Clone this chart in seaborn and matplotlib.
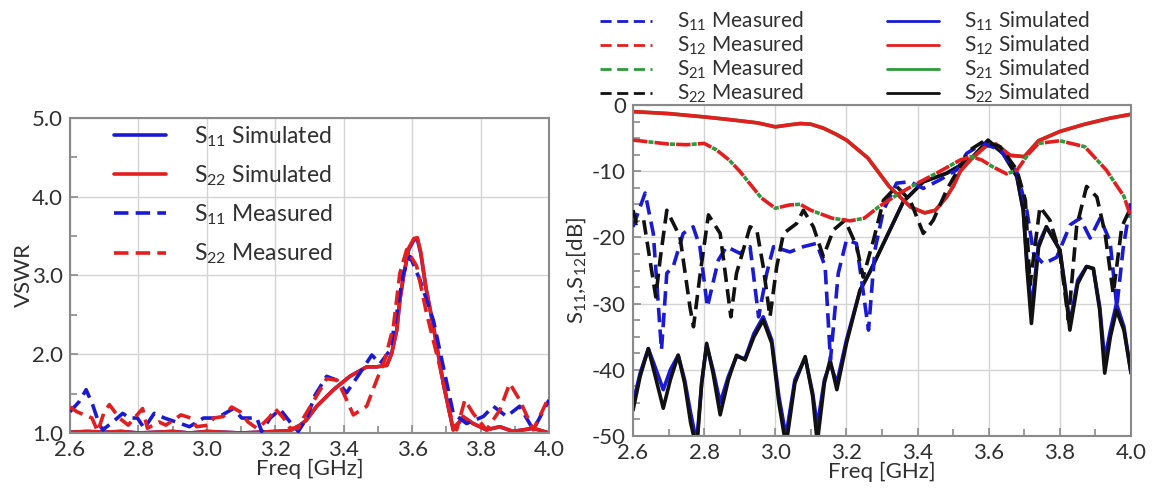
import numpy as np
import pandas as pd
import matplotlib
matplotlib.use("Agg")
import matplotlib.pyplot as plt
from matplotlib.lines import Line2D
from matplotlib.ticker import MultipleLocator, FormatStrFormatter
import seaborn as sns

sns.set_theme(style="whitegrid")
plt.rcParams["font.family"] = ["Lato", "DejaVu Sans"]
plt.rcParams["mathtext.fontset"] = "custom"
plt.rcParams["mathtext.rm"] = "Lato"
plt.rcParams["mathtext.it"] = "Lato:italic"
plt.rcParams["mathtext.default"] = "regular"
plt.rcParams["axes.unicode_minus"] = False

# ---------------- VSWR (left panel) ----------------
vswr_sim_f = [2.60, 2.65, 2.70, 2.75, 2.80, 2.85, 2.90, 2.95, 3.00, 3.05, 3.10, 3.15,
              3.20, 3.243, 3.272, 3.29, 3.321, 3.37, 3.418, 3.467, 3.496, 3.526, 3.540,
              3.555, 3.564, 3.575, 3.59, 3.605, 3.615, 3.625, 3.640, 3.662, 3.691,
              3.72, 3.749, 3.778, 3.817, 3.856, 3.895, 3.954, 4.0]
vswr_s22_sim = [1.01, 1.02, 1.01, 1.02, 1.00, 1.01, 1.02, 1.00, 1.02, 1.01, 1.00, 1.01,
                1.02, 1.03, 1.10, 1.16, 1.34, 1.55, 1.72, 1.84, 1.84, 1.86, 2.01,
                2.31, 2.69, 3.00, 3.35, 3.47, 3.48, 3.30, 2.85, 2.35, 1.63,
                1.04, 1.21, 1.12, 1.04, 1.08, 1.02, 1.06, 1.00]
vswr_s11_sim = [1.01, 1.02, 1.01, 1.02, 1.00, 1.01, 1.02, 1.00, 1.02, 1.01, 1.00, 1.01,
                1.02, 1.03, 1.10, 1.16, 1.34, 1.55, 1.72, 1.84, 1.84, 1.86, 2.01,
                2.31, 2.69, 3.00, 3.33, 3.45, 3.46, 3.28, 2.85, 2.35, 1.63,
                1.04, 1.20, 1.12, 1.04, 1.08, 1.02, 1.06, 1.00]

vswr_s22_meas_f = [2.600, 2.620, 2.664, 2.681, 2.700, 2.715, 2.744, 2.770, 2.790, 2.812,
                   2.826, 2.860, 2.880, 2.924, 2.953, 2.970, 3.004, 3.020, 3.048, 3.072,
                   3.097, 3.120, 3.146, 3.160, 3.185, 3.199, 3.224, 3.243, 3.267, 3.282,
                   3.311, 3.350, 3.380, 3.399, 3.428, 3.467, 3.496, 3.520, 3.545, 3.564,
                   3.584, 3.613, 3.642, 3.681, 3.710, 3.730, 3.754, 3.778, 3.817, 3.856,
                   3.885, 3.914, 3.954, 4.000]
vswr_s22_meas = [1.33, 1.27, 1.19, 1.02, 1.27, 1.36, 1.19, 1.10, 1.20, 1.31,
                 1.06, 1.14, 1.10, 1.23, 1.19, 1.08, 1.10, 1.19, 1.21, 1.33,
                 1.27, 1.14, 1.06, 1.10, 1.21, 1.31, 1.19, 1.06, 1.06, 1.19,
                 1.40, 1.69, 1.67, 1.51, 1.23, 1.34, 1.67, 1.93, 2.35, 3.03,
                 3.33, 3.12, 2.52, 1.84, 1.25, 1.04, 1.42, 1.25, 1.04, 1.29,
                 1.63, 1.42, 1.04, 1.46]

vswr_s11_meas_f = [2.600, 2.627, 2.647, 2.666, 2.686, 2.696, 2.725, 2.754, 2.773, 2.797,
                   2.817, 2.846, 2.876, 2.910, 2.949, 2.990, 3.029, 3.077, 3.102, 3.146,
                   3.160, 3.185, 3.214, 3.243, 3.267, 3.292, 3.316, 3.350, 3.380, 3.408,
                   3.447, 3.482, 3.506, 3.535, 3.555, 3.574, 3.594, 3.623, 3.662, 3.691,
                   3.720, 3.759, 3.808, 3.837, 3.876, 3.914, 3.954, 4.000]
vswr_s11_meas = [1.27, 1.40, 1.55, 1.36, 1.10, 1.04, 1.14, 1.25, 1.19, 1.19,
                 1.06, 1.25, 1.19, 1.14, 1.08, 1.19, 1.19, 1.31, 1.19, 1.19,
                 1.02, 1.19, 1.30, 1.14, 1.02, 1.19, 1.48, 1.72, 1.67, 1.51,
                 1.76, 1.99, 1.88, 2.05, 2.52, 3.03, 3.24, 2.94, 2.43, 1.84,
                 1.25, 1.12, 1.21, 1.34, 1.21, 1.34, 1.04, 1.42]

# ---------------- S-parameters (right panel) ----------------
s12_sim_f = [2.60, 2.70, 2.80, 2.87, 2.95, 3.00, 3.04, 3.07, 3.10, 3.135, 3.17, 3.20,
             3.26, 3.32, 3.38, 3.42, 3.45, 3.48, 3.50, 3.52, 3.55, 3.59, 3.62, 3.66,
             3.70, 3.74, 3.80, 3.87, 3.94, 4.00]
s12_sim = [-1.0, -1.3, -1.8, -2.2, -2.7, -3.3, -3.0, -2.8, -2.9, -3.5, -4.4, -5.3,
           -8.0, -12.3, -15.4, -16.3, -15.9, -14.0, -12.3, -10.0, -8.2, -6.3, -5.9, -7.6,
           -7.8, -5.4, -4.0, -2.9, -2.0, -1.4]
s21_sim = list(s12_sim)

s12_meas_f = [2.60, 2.65, 2.70, 2.75, 2.80, 2.835, 2.87, 2.90, 2.93, 2.96, 3.00, 3.04,
              3.07, 3.10, 3.16, 3.21, 3.25, 3.29, 3.35, 3.40, 3.46, 3.52, 3.55, 3.58,
              3.61, 3.65, 3.68, 3.71, 3.74, 3.80, 3.87, 3.93, 3.98, 4.00]
s12_meas = [-5.3, -5.6, -5.9, -6.0, -5.8, -6.8, -8.3, -10.0, -12.0, -14.0, -15.6, -15.1,
            -15.0, -15.9, -17.1, -17.5, -17.1, -15.4, -13.3, -11.8, -10.1, -8.3, -7.8, -8.3,
            -9.3, -10.4, -9.8, -7.5, -5.8, -5.4, -6.3, -9.8, -13.8, -17.0]
s21_meas = list(s12_meas)

s11_meas_f = [2.600, 2.634, 2.657, 2.680, 2.695, 2.713, 2.741, 2.769, 2.788, 2.809,
              2.840, 2.863, 2.900, 2.929, 2.953, 2.976, 2.995, 3.041, 3.079, 3.116,
              3.140, 3.155, 3.177, 3.200, 3.228, 3.262, 3.280, 3.304, 3.341, 3.379,
              3.416, 3.463, 3.510, 3.538, 3.585, 3.632, 3.679, 3.707, 3.726, 3.754,
              3.791, 3.829, 3.857, 3.885, 3.913, 3.941, 3.960, 3.978, 4.000]
s11_meas = [-18.4, -13.3, -19.4, -37.0, -25.4, -24.4, -19.4, -18.4, -21.4, -30.5,
            -23.4, -21.4, -22.4, -21.4, -32.0, -25.4, -21.4, -22.2, -21.4, -20.9,
            -24.4, -38.5, -25.4, -20.4, -20.9, -34.0, -21.9, -15.9, -11.8, -11.6,
            -12.6, -11.3, -9.8, -7.3, -5.8, -6.8, -10.1, -15.9, -22.4, -24.0,
            -23.0, -18.1, -17.1, -20.1, -17.1, -20.6, -30.5, -21.6, -14.4]

s22_meas_f = [2.600, 2.610, 2.630, 2.664, 2.676, 2.695, 2.732, 2.760, 2.770, 2.790,
              2.812, 2.845, 2.875, 2.891, 2.929, 2.948, 2.966, 2.985, 3.004, 3.023,
              3.060, 3.079, 3.107, 3.135, 3.163, 3.196, 3.229, 3.247, 3.276, 3.304,
              3.341, 3.379, 3.416, 3.444, 3.482, 3.519, 3.547, 3.585, 3.632, 3.679,
              3.703, 3.716, 3.744, 3.772, 3.800, 3.824, 3.847, 3.875, 3.904, 3.927,
              3.950, 3.974, 4.000]
s22_meas = [-15.9, -17.9, -17.4, -29.0, -23.4, -15.9, -19.9, -30.5, -33.5, -25.0,
            -16.6, -19.4, -32.0, -25.4, -18.4, -18.9, -24.4, -32.0, -24.4, -19.4,
            -17.9, -15.9, -18.4, -22.9, -18.9, -17.4, -21.4, -26.0, -20.4, -14.4,
            -12.3, -14.4, -19.4, -17.4, -12.8, -9.3, -6.8, -5.5, -6.3, -9.8,
            -14.4, -27.2, -15.4, -17.4, -22.4, -32.5, -18.4, -12.3, -13.9, -19.4,
            -28.5, -18.4, -15.4]

sim_f = [2.600, 2.620, 2.643, 2.665, 2.685, 2.705, 2.727, 2.745, 2.762, 2.779,
         2.793, 2.807, 2.825, 2.845, 2.868, 2.891, 2.915, 2.940, 2.966, 2.990,
         3.010, 3.030, 3.055, 3.084, 3.105, 3.118, 3.138, 3.154, 3.173, 3.200,
         3.238, 3.266, 3.322, 3.360, 3.416, 3.482, 3.547, 3.598, 3.640, 3.679,
         3.697, 3.708, 3.720, 3.740, 3.762, 3.800, 3.815, 3.828, 3.850, 3.875,
         3.894, 3.912, 3.926, 3.942, 3.959, 3.980, 4.000]
s22_sim = [-46.1, -41.0, -36.8, -41.5, -45.8, -41.5, -37.8, -42.0, -48.0, -52.0,
           -42.0, -36.0, -40.5, -46.8, -41.5, -37.8, -38.5, -35.0, -32.5, -36.0,
           -45.0, -51.5, -42.0, -38.0, -44.0, -51.0, -42.0, -38.5, -43.0, -36.0,
           -28.0, -25.2, -18.9, -14.6, -11.6, -10.3, -8.3, -5.3, -7.3, -10.8,
           -15.9, -25.0, -33.0, -21.5, -18.4, -21.9, -28.0, -34.0, -27.0, -24.4,
           -24.7, -31.0, -40.5, -35.0, -31.0, -34.0, -40.5]
s11_sim = [-45.0, -40.5, -36.8, -40.0, -43.0, -40.0, -37.8, -41.5, -46.5, -51.0,
           -42.0, -36.3, -40.0, -45.0, -41.0, -38.0, -38.3, -34.5, -32.0, -35.5,
           -44.0, -50.0, -41.5, -38.2, -43.5, -48.5, -41.5, -39.0, -42.0, -35.5,
           -28.0, -25.2, -18.9, -14.6, -11.6, -10.3, -8.3, -5.5, -7.3, -10.8,
           -15.9, -24.0, -31.0, -21.0, -18.4, -21.9, -27.5, -33.0, -26.5, -24.4,
           -24.7, -30.5, -38.5, -34.0, -30.0, -33.5, -40.5]

BLUE = "#1a1ad6"
RED = "#e41e1e"
GREEN = "#2e9a3a"
BLACK = "#111111"
DASH = (0, (4, 2))
GREEN_GAP_DASH = (1.7, (1.4, 4.6))
LW = 2.6

fig = plt.figure(figsize=(11.52, 4.92), dpi=100)
axL = fig.add_axes([0.0608, 0.1199, 0.4158, 0.6403])
axR = fig.add_axes([0.5495, 0.1138, 0.4323, 0.6728])


def draw(ax, f, v, color, dashed, label=None, lw=LW, z=2, dash=DASH):
    df = pd.DataFrame({"f": f, "v": v})
    sns.lineplot(data=df, x="f", y="v", ax=ax, color=color, lw=lw,
                 estimator=None, sort=False, legend=False, zorder=z)
    line = ax.lines[-1]
    line.set_linestyle(dash if dashed else "-")
    line.set_label(label if label else "_nolegend_")
    return line


# left panel lines
hL = []
hL.append(draw(axL, vswr_sim_f, vswr_s11_sim, BLUE, False, r"S$_{11}$ Simulated"))
hL.append(draw(axL, vswr_sim_f, vswr_s22_sim, RED, False, r"S$_{22}$ Simulated"))
hL.append(draw(axL, vswr_s11_meas_f, vswr_s11_meas, BLUE, True, r"S$_{11}$ Measured", z=3))
hL.append(draw(axL, vswr_s22_meas_f, vswr_s22_meas, RED, True, r"S$_{22}$ Measured", z=3))

# right panel lines (S21 measured peeks out between the S12 dashes)
hs11s = draw(axR, sim_f, s11_sim, BLUE, False, r"S$_{11}$ Simulated")
hs22s = draw(axR, sim_f, s22_sim, BLACK, False, r"S$_{22}$ Simulated")
hs21s = draw(axR, s12_sim_f, s21_sim, GREEN, False, r"S$_{21}$ Simulated")
hs12s = draw(axR, s12_sim_f, s12_sim, RED, False, r"S$_{12}$ Simulated")
hs11m = draw(axR, s11_meas_f, s11_meas, BLUE, True, r"S$_{11}$ Measured", z=3)
hs22m = draw(axR, s22_meas_f, s22_meas, BLACK, True, r"S$_{22}$ Measured", z=3)
draw(axR, s12_meas_f, s21_meas, GREEN, True, None, z=3, dash=GREEN_GAP_DASH)
hs12m = draw(axR, s12_meas_f, s12_meas, RED, True, r"S$_{12}$ Measured", z=3)
hs21m = Line2D([], [], color=GREEN, lw=LW, linestyle=DASH, label=r"S$_{21}$ Measured")

TICK_COLOR = "#303030"
for ax in (axL, axR):
    ax.set_xlim(2.6, 4.0)
    ax.xaxis.set_major_locator(MultipleLocator(0.2))
    ax.xaxis.set_minor_locator(MultipleLocator(0.1))
    ax.xaxis.set_major_formatter(FormatStrFormatter("%.1f"))
    ax.grid(True, which="major", color="#d4d4d4", lw=1.0)
    ax.grid(False, which="minor")
    for s in ax.spines.values():
        s.set_color("#8a8a8a")
        s.set_linewidth(1.5)
    ax.tick_params(which="both", direction="in", colors="#8a8a8a",
                   labelcolor=TICK_COLOR, labelsize=16, bottom=True, left=True)
    ax.tick_params(which="major", length=6, width=1.2, pad=5)
    ax.tick_params(which="minor", length=5, width=1.2)
    ax.set_xlabel("Freq [GHz]", fontsize=16, color=TICK_COLOR, labelpad=-1)
    ax.set_facecolor("white")

axL.set_ylim(1.0, 5.0)
axL.yaxis.set_major_locator(MultipleLocator(1.0))
axL.yaxis.set_minor_locator(MultipleLocator(0.5))
axL.yaxis.set_major_formatter(FormatStrFormatter("%.1f"))
axL.set_ylabel("VSWR", fontsize=16, color=TICK_COLOR, labelpad=-1)

axR.set_ylim(-50, 0)
axR.yaxis.set_major_locator(MultipleLocator(10))
axR.yaxis.set_minor_locator(MultipleLocator(2.5))
axR.yaxis.set_major_formatter(FormatStrFormatter("%d"))
axR.set_ylabel(r"S$_{11}$,S$_{12}$[dB]", fontsize=16, color=TICK_COLOR, labelpad=3)

legL = fig.legend(handles=hL, loc="upper left", bbox_to_anchor=(0.0807, 0.790),
                  frameon=False, fontsize=16.5, handlelength=2.3, handletextpad=1.2,
                  labelspacing=0.64, labelcolor=TICK_COLOR)

hR = [hs11m, hs12m, hs21m, hs22m, hs11s, hs12s, hs21s, hs22s]
legR = fig.legend(handles=hR, loc="upper left", bbox_to_anchor=(0.508, 1.009),
                  ncol=2, frameon=False, fontsize=15, handlelength=2.5,
                  handletextpad=1.2, columnspacing=4.0, labelspacing=0.03,
                  borderpad=0.2, labelcolor=TICK_COLOR)
for ln in legR.get_lines():
    ln.set_linewidth(2.0)

fig.patch.set_facecolor("white")
fig.savefig("out.png", dpi=100, facecolor="white")
